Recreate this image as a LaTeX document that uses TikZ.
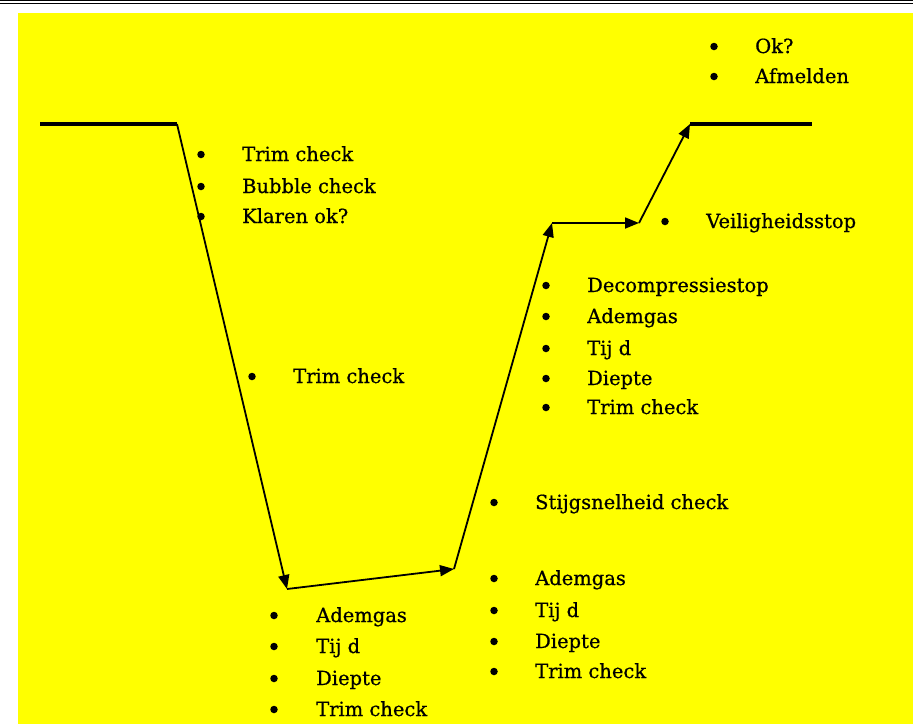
\documentclass[tikz,border=0pt]{standalone}
\usepackage{fontspec}
\setmainfont{DejaVu Serif}
\newfontfamily\labelfont{DejaVu Serif}[FakeBold=0.7]
\usetikzlibrary{arrows.meta}
\definecolor{bgyellow}{RGB}{255,255,0}
\newcommand\listentry[5]{%
  \node[dot] (#1-b) at (#2,#4-6.5) {};
  \node[item] (#1) at (#3,#4) {#5};
}
\begin{document}
\begin{tikzpicture}[x=1pt,y=-1pt,
  item/.style={anchor=base west, inner sep=0pt, font=\labelfont\fontsize{19.5}{23}\selectfont},
  dot/.style={circle, fill=black, inner sep=0pt, minimum size=7.5pt},
  flow/.style={line width=1.8pt, -{Triangle[length=14pt,width=11pt]}},
  surface/.style={line width=3.6pt}]
\useasboundingbox (0,0) rectangle (913,724);
\fill[bgyellow] (18,13) rectangle (913,724);
\draw[line width=0.8pt] (0,0.8) -- (913,0.8);
\draw[line width=0.6pt] (0,3) -- (913,3);
% profile
\coordinate (s0) at (40,124);
\coordinate (s1) at (177,124);
\coordinate (b1) at (287,589);
\coordinate (b2) at (454,569);
\coordinate (d1) at (552,223);
\coordinate (d2) at (639,223);
\coordinate (e1) at (690,124);
\coordinate (e2) at (812,124);
\draw[surface] (s0) -- (s1);
\draw[flow] (s1) -- (b1);
\draw[flow] (b1) -- (b2);
\draw[flow] (b2) -- (d1);
\draw[flow] (d1) -- (d2);
\draw[flow] (d2) -- (e1);
\draw[surface] (e1) -- (e2);
% descent
\listentry{t1}{201}{242}{161}{Trim check}
\listentry{t2}{201}{242}{193}{Bubble check}
\listentry{t3}{201}{242}{223}{Klaren ok?}
\listentry{m1}{252}{293}{383}{Trim check}
% bottom
\listentry{g1}{274}{316}{622}{Ademgas}
\listentry{g2}{274}{316}{653}{Tij d}
\listentry{g3}{274}{316}{685}{Diepte}
\listentry{g4}{274}{316}{716}{Trim check}
% ascent
\listentry{a0}{494}{535}{509}{Stijgsnelheid check}
\listentry{a1}{494}{535}{585}{Ademgas}
\listentry{a2}{494}{535}{617}{Tij d}
\listentry{a3}{494}{535}{648}{Diepte}
\listentry{a4}{494}{535}{678}{Trim check}
% deco
\listentry{c1}{546}{587}{292}{Decompressiestop}
\listentry{c2}{546}{587}{323}{Ademgas}
\listentry{c3}{546}{587}{355}{Tij d}
\listentry{c4}{546}{587}{385}{Diepte}
\listentry{c5}{546}{587}{414}{Trim check}
% safety stop
\listentry{v1}{665}{706}{228}{Veiligheidsstop}
% surface
\listentry{o1}{714}{755}{53}{Ok?}
\listentry{o2}{714}{755}{83}{Afmelden}
\end{tikzpicture}
\end{document}
